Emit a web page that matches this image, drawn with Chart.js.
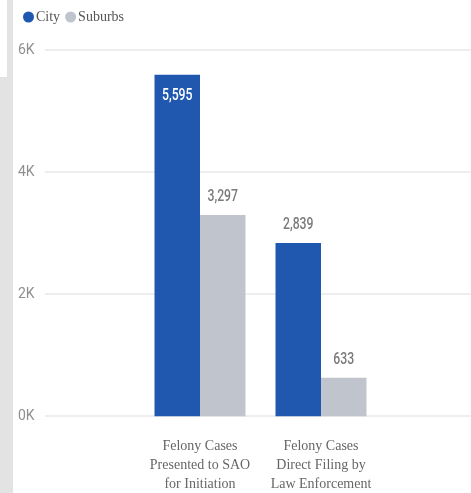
<!DOCTYPE html>
<html>
<head>
<meta charset="utf-8">
<script src="https://cdn.jsdelivr.net/npm/chart.js@4/dist/chart.umd.min.js"></script>
<style>
  html, body { margin: 0; padding: 0; background: #fff; }
  body { width: 471px; height: 493px; position: relative; overflow: hidden; }
  .rail { position: absolute; background: #e3e3e3; }
  #chart { position: absolute; left: 13px; top: 0; }
</style>
</head>
<body>
<div class="rail" style="left:7px; top:0; width:6px; height:493px;"></div>
<div class="rail" style="left:0; top:77px; width:7px; height:416px;"></div>
<canvas id="chart" width="458" height="493"></canvas>
<script>
const categories = [
  ["Felony Cases", "Presented to SAO", "for Initiation"],
  ["Felony Cases", "Direct Filing by", "Law Enforcement"]
];
const cityValues = [5595, 2839];
const suburbsValues = [3297, 633];
const yMax = 6000;
const yStep = 2000;

const sans = "Roboto, 'DejaVu Sans', sans-serif";
const serif = "'Liberation Serif', 'DejaVu Serif', serif";

// horizontal guides run past the plot area, out to the canvas edge
const gridLines = {
  id: "gridLines",
  beforeDatasetsDraw(chart) {
    const { ctx, scales: { y }, width } = chart;
    ctx.save();
    ctx.strokeStyle = "#e8e8e8";
    ctx.lineWidth = 1.5;
    y.ticks.forEach(t => {
      const py = Math.round(y.getPixelForValue(t.value));
      ctx.beginPath();
      ctx.moveTo(32, py);
      ctx.lineTo(width, py);
      ctx.stroke();
    });
    ctx.restore();
  }
};

// value labels: inside the bar when it runs up to the top, otherwise above it
const barLabels = {
  id: "barLabels",
  afterDatasetsDraw(chart) {
    const { ctx, chartArea } = chart;
    chart.data.datasets.forEach((ds, i) => {
      chart.getDatasetMeta(i).data.forEach((bar, j) => {
        const text = ds.data[j].toLocaleString("en-US");
        const inside = bar.y - chartArea.top < 30;
        ctx.save();
        ctx.translate(bar.x, inside ? bar.y + 21 : bar.y - 18);
        ctx.scale(0.72, 1);   // narrow the glyphs
        ctx.font = "500 17px " + sans;
        ctx.textAlign = "center";
        ctx.textBaseline = "middle";
        ctx.fillStyle = inside ? "#ffffff" : "#7a7a7a";
        ctx.fillText(text, 0, 0);
        ctx.restore();
      });
    });
  }
};

// extra room between legend and plot
const legendGap = {
  id: "legendGap",
  beforeInit(chart) {
    const fit = chart.legend.fit;
    chart.legend.fit = function () {
      fit.bind(chart.legend)();
      this.height += 16;
    };
  }
};

new Chart(document.getElementById("chart"), {
  type: "bar",
  data: {
    labels: categories,
    datasets: [
      {
        label: "City",
        data: cityValues,
        backgroundColor: "#2058b0",
        categoryPercentage: 0.752,
        barPercentage: 1
      },
      {
        label: "Suburbs",
        data: suburbsValues,
        backgroundColor: "#c0c4cc",
        categoryPercentage: 0.752,
        barPercentage: 1
      }
    ]
  },
  options: {
    responsive: false,
    animation: false,
    layout: { padding: { left: 5, right: 89.5, top: 0, bottom: 1 } },
    plugins: {
      legend: {
        position: "top",
        align: "start",
        labels: {
          usePointStyle: true,
          pointStyle: "circle",
          boxWidth: 1,
          boxHeight: 7.8,
          padding: 10,
          color: "#555",
          font: { family: serif, size: 14 }
        }
      },
      tooltip: { enabled: false }
    },
    scales: {
      x: {
        grid: { display: false, drawTicks: false },
        border: { display: false },
        afterFit: scale => { scale.height -= scale.options.ticks.padding + 2; },
        ticks: {
          color: "#666",
          padding: 20.5,
          maxRotation: 0,
          autoSkip: false,
          font: { family: serif, size: 14, lineHeight: 1.36 }
        }
      },
      y: {
        min: 0,
        max: yMax,
        grid: { display: false, drawTicks: false },
        border: { display: false },
        afterFit: scale => { scale.width = 121.5; },
        ticks: {
          stepSize: yStep,
          color: "#8f8f8f",
          padding: 0,
          crossAlign: "far",
          font: { family: sans, size: 14 },
          callback: v => (v / 1000) + "K"
        }
      }
    }
  },
  plugins: [gridLines, barLabels, legendGap]
});
</script>
</body>
</html>
